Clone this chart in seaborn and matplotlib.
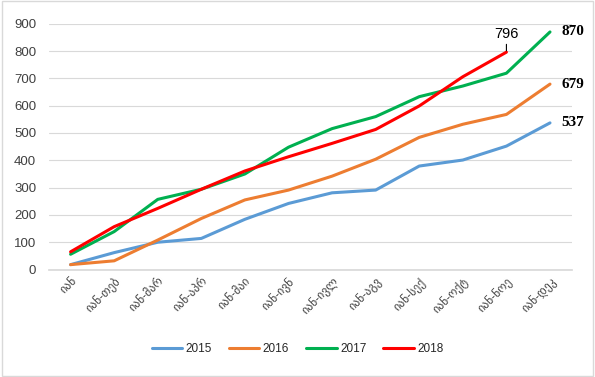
import pandas as pd
import matplotlib
matplotlib.use("Agg")
import matplotlib.pyplot as plt
from matplotlib.patches import Rectangle
import seaborn as sns

# ── Data ────────────────────────────────────────────────────────────────────
months = ["იან", "იან-თებ", "იან-მარ", "იან-აპრ", "იან-მაი", "იან-ივნ",
          "იან-ივლ", "იან-აგვ", "იან-სექ", "იან-ოქტ", "იან-ნოე", "იან-დეკ"]
y2015 = [18, 62, 100, 114, 184, 242, 281, 291, 379, 401, 452, 537]
y2016 = [18, 32, 108, 187, 255, 291, 342, 404, 484, 532, 568, 679]
y2017 = [56, 139, 257, 294, 350, 448, 516, 560, 633, 672, 719, 870]
y2018 = [65, 157, 224, 294, 361, 413, 462, 513, 599, 706, 796]

years = ["2015", "2016", "2017", "2018"]
colors = ["#5B9BD5", "#ED7D31", "#00B050", "#FF0000"]

rows = []
for yr, vals in zip(years, [y2015, y2016, y2017, y2018]):
    for i, v in enumerate(vals):
        rows.append({"idx": i, "value": v, "year": yr})
df = pd.DataFrame(rows)

sns.set_theme(style="white")
plt.rcParams["font.family"] = ["Liberation Sans", "DejaVu Sans"]

fig = plt.figure(figsize=(5.95, 3.77), dpi=100)
ax = fig.add_axes([0.082, 0.285, 0.879, 0.652])

sns.lineplot(data=df, x="idx", y="value", hue="year", palette=colors,
             linewidth=2.2, ax=ax, legend=False)

ax.set_xlim(-0.5, len(months) - 0.5)
ax.set_ylim(0, 900)
ax.set_yticks(range(0, 901, 100))
ax.set_xticks(range(len(months)))
ax.set_xticklabels(months, rotation=45, ha="right", rotation_mode="anchor",
                   fontsize=8.5, color="#404040")
ax.tick_params(axis="y", labelsize=9.5, colors="#404040", length=0, pad=9)
ax.tick_params(axis="x", length=0, pad=4)
ax.set_xlabel("")
ax.set_ylabel("")
ax.grid(axis="y", color="#D9D9D9", linewidth=0.8)
for s in ["top", "right", "left"]:
    ax.spines[s].set_visible(False)
ax.spines["bottom"].set_color("#D9D9D9")

# end labels
lab_font = dict(fontsize=11, fontweight="bold", family="Liberation Serif",
                color="#000000")
for vals in [y2015, y2016, y2017]:
    ax.annotate(str(vals[-1]), (len(vals) - 1, vals[-1]),
                textcoords="offset points", xytext=(8, 0), va="center",
                **lab_font)
ax.annotate(str(y2018[-1]), (len(y2018) - 1, y2018[-1]),
            xytext=(0, 8), textcoords="offset points", ha="center",
            va="bottom", fontsize=10.5, color="black",
            arrowprops=dict(arrowstyle="-", color="black",
                            lw=0.8, shrinkA=0, shrinkB=1))

handles = [plt.Line2D([], [], color=c, lw=2.2) for c in colors]
fig.legend(handles, years, loc="center", ncol=4, frameon=False,
           bbox_to_anchor=(0.5, 1 - 349 / 377), fontsize=8.5,
           handlelength=2.6, columnspacing=1.4, handletextpad=0.3)

fig.patches.append(Rectangle((0.003, 0.003), 0.994, 0.994,
                             transform=fig.transFigure, fill=False,
                             edgecolor="#D9D9D9", linewidth=1))

fig.savefig("out.png", dpi=100)
